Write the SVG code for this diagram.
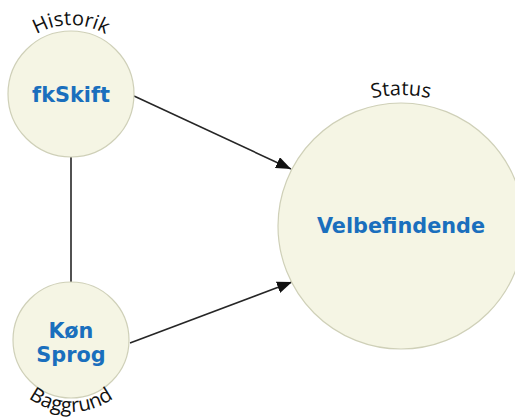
<svg xmlns="http://www.w3.org/2000/svg" width="515" height="418" viewBox="0 0 515 418">
  <style>
    .node { fill: #f5f5e4; stroke: #cfd0b8; stroke-width: 1.2; }
    .name { font-family: "DejaVu Sans", Verdana, sans-serif; font-weight: bold; font-size: 20.8px; fill: #1a6fbd; text-anchor: middle; }
    .tag { font-family: "Open Sans", "Liberation Sans", sans-serif; font-size: 20px; fill: #111; text-anchor: middle; }
    .edge { stroke: #262626; stroke-width: 1.6; fill: none; }
  </style>
  <defs>
    <marker id="arrow" markerUnits="userSpaceOnUse" markerWidth="16" markerHeight="12" refX="15" refY="6" orient="auto">
      <path d="M0,0 L15,6 L0,12 Z" fill="#111"/>
    </marker>
    <path id="arcHistorik" d="M 22.2 45.2 A 69 69 0 0 1 119.8 45.2"/>
    <path id="arcStatus" d="M 335.5 112.6 A 131 131 0 0 1 466.5 112.6"/>
    <path id="arcBaggrund" d="M 20.1 390.9 A 72 72 0 0 0 121.9 390.9"/>
  </defs>
  <rect width="515" height="418" fill="#ffffff"/>
  <g id="connectors">
    <line class="edge" x1="71" y1="157" x2="71" y2="282"/>
    <line class="edge" x1="134" y1="96" x2="291" y2="169" marker-end="url(#arrow)"/>
    <line class="edge" x1="130" y1="343" x2="292" y2="282" marker-end="url(#arrow)"/>
  </g>
  <g id="fkSkift">
    <circle class="node" cx="71" cy="94" r="63"/>
    <text class="name" x="71" y="102">fkSkift</text>
    <text class="tag"><textPath href="#arcHistorik" startOffset="50%">Historik</textPath></text>
  </g>
  <g id="KonSprog">
    <circle class="node" cx="71" cy="340" r="58"/>
    <text class="name" x="71" y="338">Køn</text>
    <text class="name" x="71" y="362">Sprog</text>
    <text class="tag"><textPath href="#arcBaggrund" startOffset="50%">Baggrund</textPath></text>
  </g>
  <g id="Velbefindende">
    <circle class="node" cx="401" cy="226" r="123"/>
    <text class="name" x="401" y="233">Velbefindende</text>
    <text class="tag"><textPath href="#arcStatus" startOffset="50%">Status</textPath></text>
  </g>
</svg>
